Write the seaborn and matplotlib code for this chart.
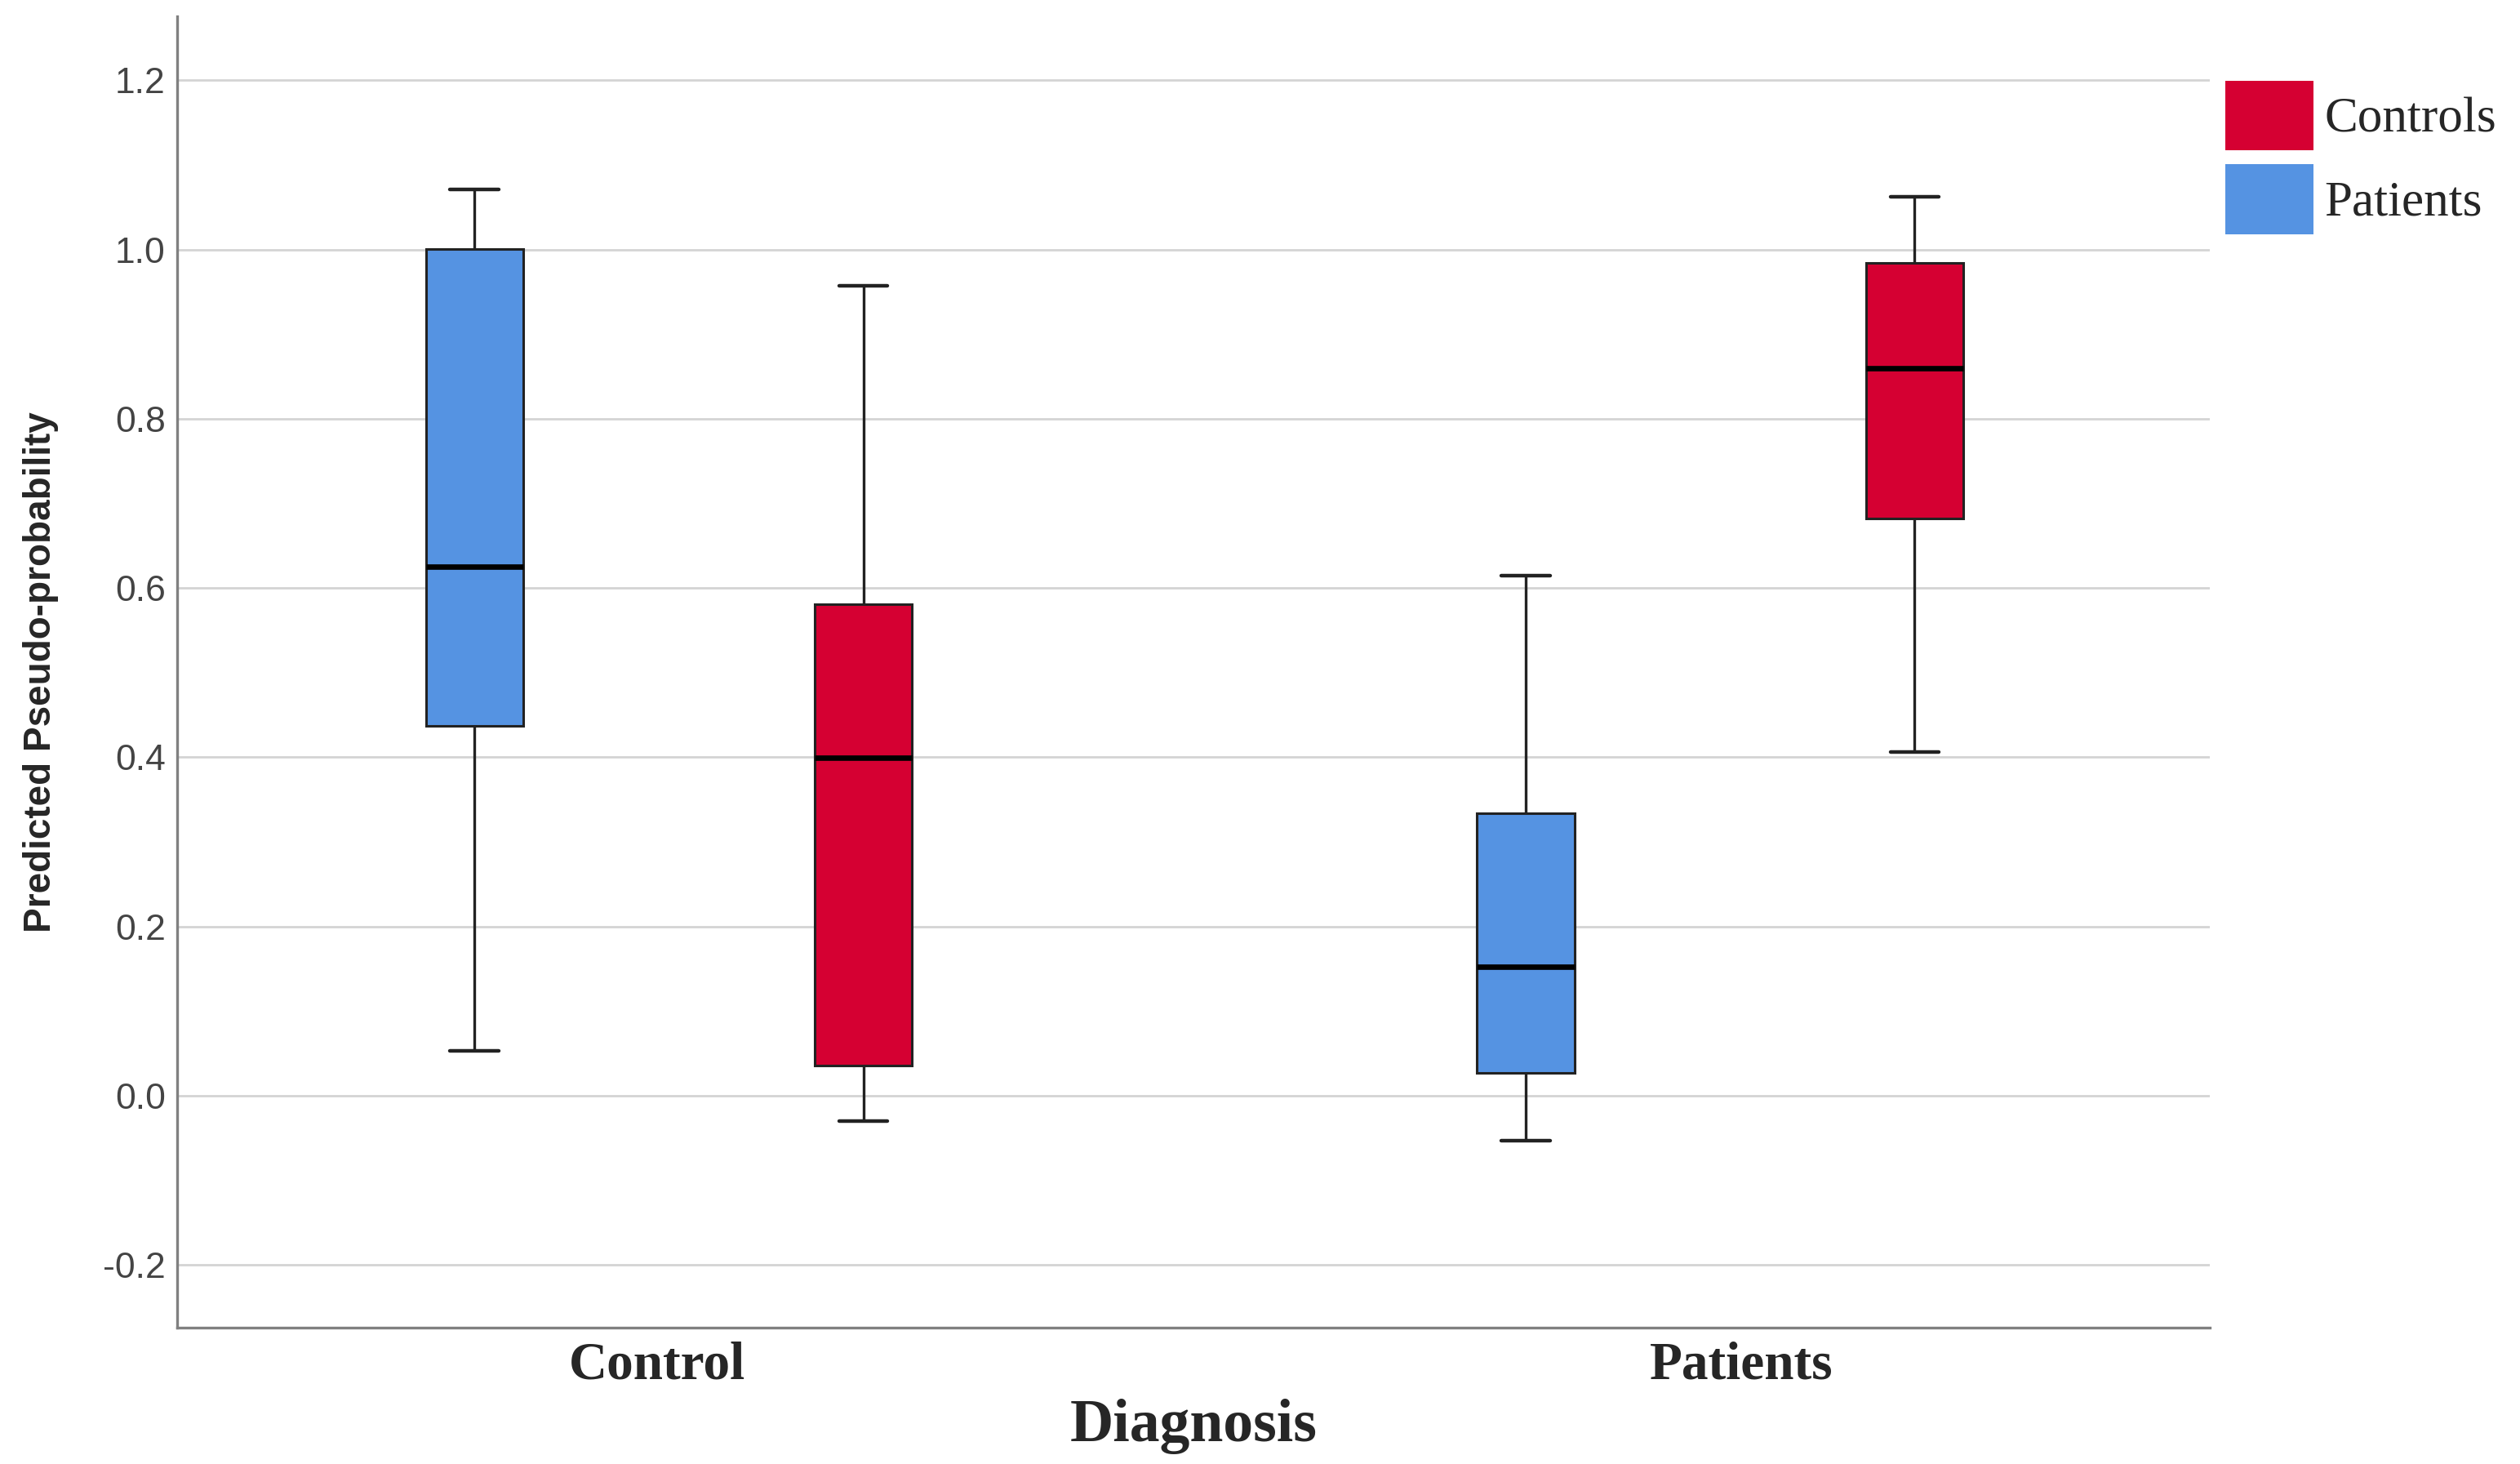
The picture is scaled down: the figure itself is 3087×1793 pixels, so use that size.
import numpy as np
import pandas as pd
import matplotlib
matplotlib.use("Agg")
import matplotlib.pyplot as plt
from matplotlib.patches import Patch
from matplotlib import font_manager
import seaborn as sns

# five-number summaries: [min, Q1, median, Q3, max]
diagnosis = ["Control", "Patients"]
groups = ["Patients", "Controls"]
control_patients = [0.053, 0.437, 0.625, 1.001, 1.071]
control_controls = [-0.030, 0.036, 0.399, 0.581, 0.957]
patients_patients = [-0.053, 0.027, 0.152, 0.334, 0.615]
patients_controls = [0.406, 0.682, 0.860, 0.984, 1.062]
yticks = [-0.2, 0.0, 0.2, 0.4, 0.6, 0.8, 1.0, 1.2]

rows = []
for d, g, vals in [("Control", "Patients", control_patients),
                   ("Control", "Controls", control_controls),
                   ("Patients", "Patients", patients_patients),
                   ("Patients", "Controls", patients_controls)]:
    for v in vals:
        rows.append({"Diagnosis": d, "Group": g, "value": v})
df = pd.DataFrame(rows)

sns.set_style("white")
names = {f.name for f in font_manager.fontManager.ttflist}
narrow = "Liberation Sans Narrow" in names

palette = {"Controls": "#D50032", "Patients": "#5593E2"}

fig = plt.figure(figsize=(15.435, 8.965), dpi=200)
ax = fig.add_axes([0.0702, 0.0933, 0.8068, 0.8957])

sns.boxplot(data=df, x="Diagnosis", y="value", hue="Group",
            order=diagnosis, hue_order=groups, palette=palette,
            width=0.74, gap=0.75, whis=(0, 100), saturation=1,
            linecolor="#222222", linewidth=1.1, legend=False, ax=ax,
            medianprops={"color": "black", "linewidth": 2.4},
            whiskerprops={"color": "#222222", "linewidth": 1.2},
            capprops={"color": "#222222", "linewidth": 1.6})

ax.set_xlim(-0.468, 1.466)
ax.set_ylim(-0.274, 1.276)
ax.set_yticks(yticks)
ax.set_yticklabels([f"{t:.1f}" for t in yticks])
# category labels sit slightly off the group centres in the original
ax.set_xticks([-0.011, 1.02])
ax.set_xticklabels(diagnosis)
ax.yaxis.grid(True, color="#d4d4d4", linewidth=1.0)
ax.set_axisbelow(True)
for s in ["top", "right"]:
    ax.spines[s].set_visible(False)
for s in ["left", "bottom"]:
    ax.spines[s].set_color("#808080")
    ax.spines[s].set_linewidth(1.2)

ax.tick_params(axis="y", length=0, pad=5, labelsize=16, labelcolor="#444444")
ax.tick_params(axis="x", length=0, pad=6)
for lab in ax.get_yticklabels():
    lab.set_family("Liberation Sans")
for lab in ax.get_xticklabels():
    lab.set_family("Liberation Serif")
    lab.set_fontweight("bold")
    lab.set_fontsize(23.5)

ax.set_xlabel("Diagnosis", family="Liberation Serif", fontweight="bold",
              fontsize=26.5, labelpad=4)
if narrow:
    ax.set_ylabel("Predicted Pseudo-probability", family="Liberation Sans Narrow",
                  fontweight="bold", fontsize=20)
else:
    ax.set_ylabel("Predicted Pseudo-probability", family="Liberation Sans",
                  fontweight="bold", fontsize=16.5)
ax.yaxis.set_label_coords(-0.058, 0.5)

handles = [Patch(facecolor=palette["Controls"], edgecolor="none"),
           Patch(facecolor=palette["Patients"], edgecolor="none")]
fig.legend(handles, ["Controls", "Patients"], loc="upper left",
           bbox_to_anchor=(0.883, 0.945), frameon=False, borderpad=0,
           borderaxespad=0, handlelength=1.77, handleheight=1.78,
           labelspacing=0.28, handletextpad=0.22,
           prop={"family": "Liberation Serif", "size": 22})

fig.savefig("out.png", dpi=200)
